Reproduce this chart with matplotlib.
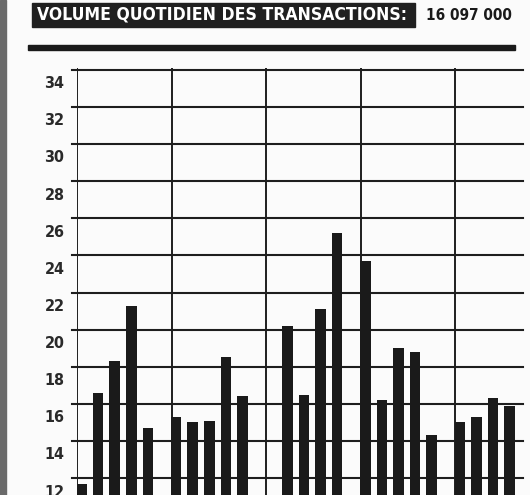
import matplotlib
matplotlib.use("Agg")
import matplotlib.pyplot as plt
from matplotlib.patches import Rectangle
from matplotlib import font_manager

# ---- data (millions of shares traded per day) ----
weeks = ["S1", "S2", "S3", "S4", "S5"]
week1 = [11.7, 16.6, 18.3, 21.3, 14.7]
week2 = [15.3, 15.0, 15.1, 18.5, 16.4]
week3 = [None, 20.2, 16.5, 21.1, 25.2]
week4 = [23.7, 16.2, 19.0, 18.8, 14.3]
week5 = [15.0, 15.3, 16.3, 15.9]
y_ticks = [12, 14, 16, 18, 20, 22, 24, 26, 28, 30, 32, 34]
title_text = "VOLUME QUOTIDIEN DES TRANSACTIONS:"
total_text = "16 097 000"

series = [week1, week2, week3, week4, week5]

W, H, DPI = 530, 495, 100
fig = plt.figure(figsize=(W / DPI, H / DPI), dpi=DPI)
fig.patch.set_facecolor("#fbfbfb")

font = ["DejaVu Sans"]
ink = "#1e1e1e"

# axes: left edge at px 77, right at 523; bottom at image bottom, top at px 68
ax = fig.add_axes([77 / W, 0, (523 - 77) / W, (H - 68) / H])
ax.set_facecolor("none")
for s in ax.spines.values():
    s.set_visible(False)
ax.set_xticks([])
ax.set_yticks([])

week_len = 5.7
offset = 0.27
ax.set_xlim(0, 26.87)
ax.set_ylim(11.09, 34.1)

# horizontal grid lines
for v in y_ticks:
    ax.plot([-0.3, 26.87], [v, v], color=ink, lw=1.5, clip_on=False, zorder=1)
    ax.annotate(str(v), xy=(0, v), xycoords=("axes fraction", "data"),
                xytext=(-9, -10), textcoords="offset points",
                ha="right", va="center", fontsize=11.5, fontweight="bold",
                family=font, fontstretch="condensed",
                color="#2a2a2a", annotation_clip=False)

# vertical week separators
for w in range(len(weeks)):
    ax.axvline(w * week_len, color=ink, lw=1.4, zorder=1)

# bars
for w, vals in enumerate(series):
    for d, v in enumerate(vals):
        if v is None:
            continue
        ax.bar(w * week_len + offset + d, v, width=0.64, color="#1a1a1a",
               zorder=2)

# header
fig.patches.append(Rectangle((32 / W, 1 - 27 / H), (415 - 32) / W, 24 / H,
                             transform=fig.transFigure, color="#202020"))
t1 = fig.text(222 / W, 1 - 15 / H, title_text, ha="center", va="center",
              color="white", fontsize=15.5, fontweight="bold", family=font,
              fontstretch="condensed")
t2 = fig.text(469 / W, 1 - 15 / H, total_text, ha="center", va="center",
              color="#1a1a1a", fontsize=12.5, fontweight="bold", family=font,
              fontstretch="condensed")

# fit header texts to their widths
renderer = fig.canvas.get_renderer()
for t, target in ((t1, 368), (t2, 86)):
    wpx = t.get_window_extent(renderer).width
    t.set_fontsize(t.get_fontsize() * target / wpx)

# thick rule
fig.patches.append(Rectangle((28 / W, 1 - 50 / H), (515 - 28) / W, 5 / H,
                             transform=fig.transFigure, color="#1a1a1a"))
# scan edge
fig.patches.append(Rectangle((0, 0), 6 / W, 1, transform=fig.transFigure,
                             color="#6a6a6a"))

fig.savefig("out.png", dpi=DPI, facecolor=fig.get_facecolor())
